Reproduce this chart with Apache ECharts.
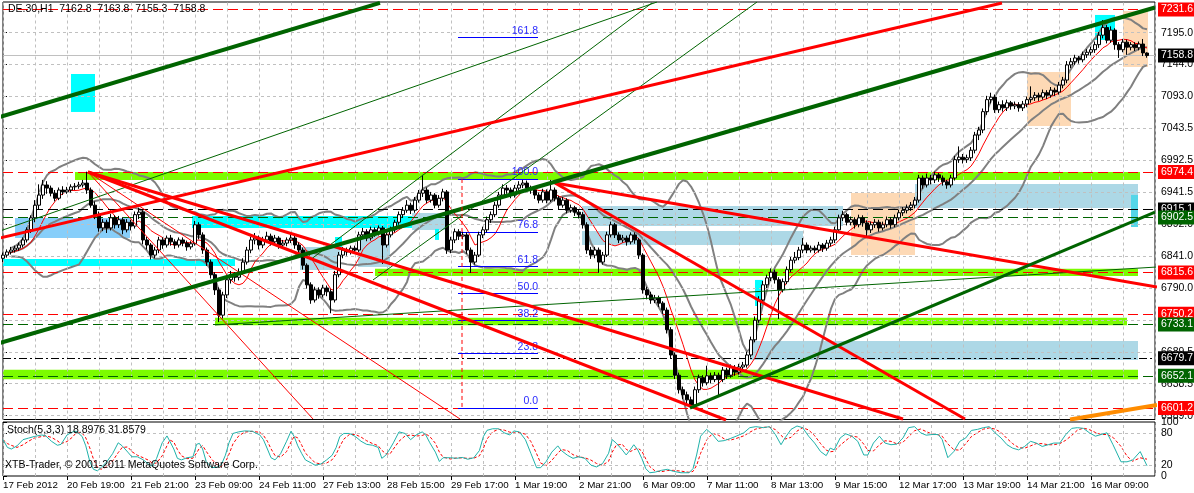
<!DOCTYPE html>
<html><head><meta charset="utf-8">
<script src="https://cdn.jsdelivr.net/npm/echarts@6/dist/echarts.min.js"></script>
<style>html,body{margin:0;padding:0;background:#fff}#c{width:1194px;height:493px}</style>
</head><body><div id="c"></div>
<script>
// ---------- DATA ----------
const timeLabels = ['17 Feb 2012','20 Feb 19:00','21 Feb 21:00','23 Feb 09:00','24 Feb 11:00','27 Feb 13:00','28 Feb 15:00','29 Feb 17:00','1 Mar 19:00','2 Mar 21:00','6 Mar 09:00','7 Mar 11:00','8 Mar 13:00','9 Mar 15:00','12 Mar 17:00','13 Mar 19:00','14 Mar 21:00','16 Mar 09:00'];
const priceTickValues = [6589.0,6639.5,6690.0,6740.5,6791.0,6841.5,6892.0,6942.5,6993.0,7043.5,7094.0,7144.5,7195.0];
const priceTickLabels = ['6589.0','6638.5','6689.5','6738.5','6790.0','6841.0','6892.0','6941.5','6992.5','7043.5','7093.0','7144.0','7195.0'];
const stochTickValues = [0,20,80,100];

// candles: [open, close, low, high]
const candles = [
[6838,6843,6832,6847],[6843,6848,6839,6852],[6848,6851,6844,6856],[6851,6854,6847,6858],[6854,6859,6850,6863],
[6859,6867,6855,6871],[6867,6883,6863,6887],[6883,6902,6878,6906],[6902,6922,6895,6930],[6922,6938,6915,6955],
[6938,6954,6932,6962],[6954,6949,6940,6960],[6949,6941,6936,6953],[6941,6933,6928,6946],[6933,6946,6930,6950],
[6946,6943,6938,6952],[6943,6946,6940,6951],[6946,6951,6942,6955],[6951,6952,6946,6957],[6952,6954,6948,6959],
[6954,6957,6950,6962],[6957,6946,6940,6975],[6946,6922,6918,6950],[6922,6907,6900,6928],[6907,6886,6880,6912],
[6886,6895,6881,6900],[6895,6886,6878,6899],[6886,6902,6882,6908],[6902,6891,6885,6906],[6891,6899,6886,6905],
[6899,6883,6876,6903],[6883,6895,6879,6900],[6895,6889,6882,6899],[6889,6907,6885,6912],[6907,6911,6900,6918],
[6911,6867,6860,6914],[6867,6859,6852,6872],[6859,6843,6836,6862],[6843,6851,6838,6856],[6851,6867,6846,6872],
[6867,6859,6853,6871],[6859,6870,6855,6874],[6870,6864,6858,6875],[6864,6859,6853,6868],[6859,6867,6855,6871],
[6867,6862,6857,6871],[6862,6856,6850,6866],[6856,6861,6852,6865],[6861,6891,6858,6897],[6891,6875,6868,6895],
[6875,6851,6845,6879],[6851,6832,6826,6855],[6832,6812,6806,6836],[6812,6788,6780,6816],[6788,6748,6737,6792],
[6748,6780,6743,6785],[6780,6804,6775,6810],[6804,6812,6798,6818],[6812,6808,6801,6816],[6808,6816,6803,6822],
[6816,6832,6812,6838],[6832,6851,6828,6856],[6851,6867,6846,6872],[6867,6870,6860,6878],[6870,6859,6852,6874],
[6859,6867,6854,6872],[6867,6873,6862,6880],[6873,6864,6858,6877],[6864,6870,6860,6875],[6870,6859,6853,6873],
[6859,6862,6854,6867],[6862,6867,6857,6871],[6867,6870,6862,6876],[6870,6859,6853,6874],[6859,6851,6845,6863],
[6851,6827,6820,6855],[6827,6796,6790,6830],[6796,6772,6766,6800],[6772,6788,6768,6793],[6788,6780,6774,6792],
[6780,6791,6776,6796],[6791,6785,6778,6795],[6785,6772,6751,6789],[6772,6812,6768,6818],[6812,6843,6808,6848],
[6843,6851,6838,6856],[6851,6848,6842,6855],[6848,6854,6844,6858],[6854,6851,6846,6858],[6851,6875,6848,6880],
[6875,6880,6870,6886],[6880,6870,6865,6884],[6870,6883,6866,6888],[6883,6878,6872,6887],[6878,6886,6874,6890],
[6886,6859,6829,6889],[6859,6875,6855,6879],[6875,6883,6871,6888],[6883,6895,6879,6899],[6895,6907,6891,6912],
[6907,6914,6902,6919],[6914,6922,6910,6930],[6922,6914,6908,6926],[6914,6930,6910,6935],[6930,6941,6926,6946],
[6941,6946,6935,6970],[6946,6930,6925,6950],[6930,6938,6926,6943],[6938,6922,6917,6941],[6922,6933,6918,6938],
[6933,6943,6928,6948],[6943,6851,6845,6946],[6851,6867,6846,6872],[6867,6880,6862,6885],[6880,6873,6867,6884],
[6873,6875,6868,6880],[6875,6851,6845,6879],[6851,6832,6815,6855],[6832,6843,6828,6848],[6843,6875,6840,6880],
[6875,6883,6870,6888],[6883,6899,6879,6904],[6899,6907,6894,6912],[6907,6922,6903,6927],[6922,6938,6918,6943],
[6938,6949,6934,6955],[6949,6946,6940,6954],[6946,6938,6933,6950],[6938,6949,6934,6954],[6949,6954,6945,6960],
[6954,6957,6949,6962],[6957,6949,6944,6961],[6949,6946,6940,6953],[6946,6938,6932,6950],[6938,6930,6925,6942],
[6930,6943,6926,6948],[6943,6930,6925,6947],[6930,6946,6927,6962],[6946,6933,6928,6950],[6933,6922,6916,6937],
[6922,6930,6918,6935],[6930,6914,6909,6933],[6914,6918,6910,6923],[6918,6911,6905,6921],[6911,6907,6901,6915],
[6907,6891,6885,6911],[6891,6851,6845,6895],[6851,6843,6837,6856],[6843,6851,6838,6856],[6851,6832,6815,6855],
[6832,6843,6828,6848],[6843,6875,6840,6880],[6875,6891,6871,6896],[6891,6875,6870,6894],[6875,6867,6862,6879],
[6867,6870,6863,6875],[6870,6864,6858,6874],[6864,6875,6860,6879],[6875,6867,6861,6879],[6867,6843,6837,6870],
[6843,6788,6782,6846],[6788,6780,6773,6793],[6780,6772,6766,6785],[6772,6775,6767,6780],[6775,6767,6761,6779],
[6767,6756,6750,6770],[6756,6725,6719,6760],[6725,6685,6679,6729],[6685,6653,6647,6689],[6653,6630,6624,6657],
[6630,6622,6615,6635],[6622,6614,6607,6627],[6614,6606,6601,6619],[6606,6630,6603,6635],[6630,6649,6625,6654],
[6649,6641,6635,6653],[6641,6652,6637,6668],[6652,6646,6640,6657],[6646,6653,6642,6658],[6653,6646,6620,6657],
[6646,6661,6642,6666],[6661,6653,6647,6665],[6653,6665,6649,6670],[6665,6658,6652,6669],[6658,6666,6654,6671],
[6666,6669,6661,6674],[6669,6685,6665,6690],[6685,6709,6681,6714],[6709,6740,6705,6746],[6740,6772,6736,6778],
[6772,6796,6768,6802],[6796,6807,6791,6812],[6807,6816,6802,6822],[6816,6804,6798,6820],[6804,6788,6742,6808],
[6788,6801,6784,6806],[6801,6820,6797,6825],[6820,6835,6816,6840],[6835,6839,6830,6848],[6839,6851,6835,6856],
[6851,6859,6846,6870],[6859,6851,6846,6863],[6851,6854,6847,6858],[6854,6851,6846,6858],[6851,6859,6847,6864],
[6859,6854,6848,6862],[6854,6862,6850,6867],[6862,6867,6857,6872],[6867,6883,6862,6888],[6883,6902,6878,6907],
[6902,6907,6897,6913],[6907,6895,6890,6910],[6895,6899,6890,6904],[6899,6891,6885,6903],[6891,6902,6887,6907],
[6902,6894,6888,6906],[6894,6883,6870,6898],[6883,6891,6878,6896],[6891,6895,6886,6900],[6895,6886,6880,6899],
[6886,6891,6882,6896],[6891,6899,6887,6904],[6899,6891,6885,6903],[6891,6902,6887,6907],[6902,6910,6898,6915],
[6910,6914,6905,6919],[6914,6918,6909,6923],[6918,6922,6913,6927],[6922,6930,6917,6935],[6930,6965,6926,6970],
[6965,6954,6948,6969],[6954,6965,6950,6972],[6965,6962,6955,6970],[6962,6970,6957,6975],[6970,6965,6959,6973],
[6965,6959,6953,6969],[6959,6954,6948,6962],[6954,6965,6950,6970],[6965,6994,6961,7000],[6994,6998,6989,7015],
[6998,6994,6988,7003],[6994,6997,6989,7002],[6997,7009,6992,7014],[7009,7033,7004,7038],[7033,7041,7025,7046],
[7041,7070,7036,7075],[7070,7089,7065,7095],[7089,7093,7083,7100],[7093,7073,7068,7097],[7073,7081,7068,7086],
[7081,7076,7070,7088],[7076,7084,7071,7089],[7084,7079,7073,7087],[7079,7081,7074,7086],[7081,7076,7070,7085],
[7076,7082,7071,7087],[7082,7089,7077,7094],[7089,7092,7084,7110],[7092,7096,7087,7101],[7096,7093,7087,7100],
[7093,7100,7089,7105],[7100,7096,7090,7104],[7096,7104,7092,7109],[7104,7101,7095,7108],[7101,7112,7097,7117],
[7112,7120,7107,7125],[7120,7144,7115,7150],[7144,7149,7139,7155],[7149,7155,7144,7160],[7155,7152,7146,7158],
[7152,7160,7148,7165],[7160,7164,7155,7169],[7164,7168,7159,7173],[7168,7176,7163,7181],[7176,7191,7171,7196],
[7191,7203,7186,7215],[7203,7183,7178,7207],[7183,7199,7179,7205],[7199,7176,7168,7202],[7176,7168,7155,7180],
[7168,7180,7164,7185],[7180,7172,7160,7184],[7172,7176,7167,7180],[7176,7171,7166,7180],[7171,7177,7167,7181],
[7177,7163,7158,7185],[7162.8,7158.8,7155.3,7163.8]
];

// Stochastic %K main line: [bar position, value]
const stochK = [
[0,67.3],[1.1,52.9],[2.1,50],[3.5,55.8],[5,67.3],[6.4,70.2],[7.8,73.1],[9.7,76],[10.7,74.2],[12.1,64.4],[13.6,56.9],[14.5,58.6],[16,76],[17.4,81.7],[18.3,82.9],[19.8,73.1],[20.7,55.8],[21.7,26.9],[22.6,12.5],[23.6,9.6],[24.5,15.4],[26,26.9],[27.4,41.3],[28.8,61.5],[29.8,55.8],[31.2,44.2],[32.2,35.6],[33.6,35.6],[35.1,29.8],[36.5,21.1],[37.4,18.3],[38.4,32.7],[39.8,61.5],[41,74.2],[41.7,64.4],[42.7,50],[43.6,32.7],[44.6,29.8],[46,33.8],[47.5,35.6],[48.4,58.6],[49.1,60.4],[49.9,50],[50.8,26.9],[52.2,15.4],[53.7,16.5],[54.6,21.1],[55.6,38.5],[56.5,61.5],[57.5,78.8],[58.9,81.7],[60.4,83.5],[62.3,82.9],[64.2,76],[65.1,67.3],[66.1,50],[67,33.8],[68,29.8],[69.4,41.3],[70.9,64.4],[72,82.9],[72.8,73.1],[73.7,55.8],[74.7,41.3],[75.6,29.8],[77.1,24],[78,20],[79.5,22.3],[80.9,29.8],[82.3,38.5],[83.3,52.9],[84.2,73.1],[85.2,78.8],[86.6,78.8],[88.1,73.1],[89.5,64.4],[90.9,58.6],[92.4,56.9],[93.8,52.9],[94.7,32.7],[95.7,38.5],[96.7,50],[97.6,61.5],[99,81.7],[100.5,78.8],[101.9,67.3],[103.3,76],[104.8,81.7],[105.7,76],[106.7,61.5],[108.1,44.2],[109.1,26.9],[110,33.8],[111.9,33.8],[113.4,32.7],[114.8,34.4],[116.2,31],[117.7,33.8],[119.1,47.1],[120.1,73.1],[121,84.6],[122.4,87.5],[123.9,87.5],[125.3,80],[126.7,76],[127.7,83.5],[129.1,81.7],[130.6,67.3],[132,41.3],[133.4,15.4],[134.4,15.4],[135.8,26.9],[137.2,44.2],[138.7,55.8],[139.6,47.1],[141.1,38.5],[142.5,32.7],[143.9,35.6],
[145.5,32.6],[147,20],[148.4,16.8],[149.9,23.1],[151.4,42.1],[152.3,67.4],[153.3,61],[154.8,48.4],[155.8,39],[156.8,48.4],[157.7,57.9],[158.7,48.4],[159.7,32.6],[160.7,13.6],[161.7,6],[163.1,7.3],[164.6,10.5],[166.1,12.4],[167.6,8.6],[169.5,6],[171.5,6],[172.5,13.6],[173.4,38.9],[174.4,73.7],[175.9,86.3],[177.4,76.8],[178.8,64.2],[180.3,65.5],[181.8,69.3],[183.3,73.7],[185.2,80],[186.7,89.5],[188.2,91.4],[190.1,89.5],[191.6,91.4],[193.1,76.8],[194.5,57.9],[195.5,70.5],[197,86.3],[198.5,92.6],[199.9,89.5],[201.4,73.7],[202.9,61],[204.4,45.2],[205.8,37.7],[206.8,51.6],[207.8,48.4],[209.3,70.5],[210.7,78.1],[212.2,73.7],[213.7,64.2],[215.2,38.9],[216.2,38.9],[217.6,61],[219.1,73.7],[220.5,61],[222,57.9],[223.5,59.1],[225,70.5],[226.4,89.5],[227.9,91.4],[229.4,80],[230.8,75.6],[232.3,76.8],[233.8,76.8],[234.8,67.4],[236.2,33.9],[237.7,45.2],[239.2,64.2],[240.7,70.5],[242.1,84.4],[243.6,86.3],[245.1,89.5],[246.6,91.4],[248,80],[249.5,70.5],[251,57.9],[252.4,51.6],[253.9,48.4],[255.4,54.7],[256.9,64.2],[258.3,61],[259.8,54.7],[261.3,57.9],[262.7,61],[264.2,61],[265.7,76.8],[267.2,88.2],[268.6,89.5],[270.1,88.2],[271.6,80],[273.1,73.7],[274.5,76.8],[276,80],[277.5,57.9],[279.5,26.3],[281,26.3],[282.4,29.5],[284.3,45.2],[286,18.9]
];

// Horizontal price levels
const levelValues = [7231.6, 7158.8, 6974.4, 6915.1, 6902.5, 6815.6, 6750.2, 6733.1, 6679.7, 6652.1, 6601.2];
const levelKinds  = ['red','cur','red','black','green','red','red','green','dashdot','green','red'];

// Fibonacci
const fibLevels = [0, 23.8, 38.2, 50.0, 61.8, 76.8, 100.0, 161.8];
const fibLow = 6601.3, fibHigh = 6963.5;
const fibFrom = 113.75, fibTo = 133.75, fibVertical = 114.75;

// Rectangles: [fromBar, toBar, priceTop, priceBottom]
const limeZones  = [[18,284.25,6974.5,6962],[93,283.75,6821.5,6810],[53,281,6744,6732],[-1,283.75,6661.5,6646.5]];
const blueZones  = [[144.75,210,6920.7,6889.1],[144.75,200,6881.2,6859.1],[228,283.75,6955.6,6917.6],[186.75,283.75,6707.1,6677],[74.25,84.25,6855.9,6819.5],[88.75,96.75,6873.3,6824.2],[102.25,111,6909.7,6882.8]];
const skyZones   = [[3,31.75,6901.8,6870.1]];
const cyanZones  = [[17,23,7129.6,7069.5],[273,278,7223,7183.4],[47.25,102.25,6904.9,6885.9],[-1,58,6836.9,6825.8],[188,190,6803.7,6762.5],[83,84.75,6871.7,6855.9],[108,109,6884.4,6867]];
const turqZones  = [[282,283.75,6938.2,6887.5]];
const peachZones = [[212,228,6941.3,6843.2],[256,267,7132.8,7047.3],[280,286.25,7229.3,7140.7]];

// Trend lines: [[bar, price], [bar, price]]
const greenThick = [[[-0.75,7061.6],[94.25,7242.0]], [[-0.75,6704.0],[288,7234.8]]];
const greenMid   = [[[171.75,6601.1],[288,6911.2]]];
const greenThin  = [[[-0.75,6881.2],[163.5,7243.5]], [[76.75,6835.3],[162.25,7242]], [[92.5,6803.7],[188.5,7243.5]], [[53,6732.5],[288.5,6824.2]]];
const redThick   = [[[-0.75,6870.1],[249.75,7242]], [[21.25,6974.5],[225,6583.7]], [[138,6957.1],[288.5,6792.6]], [[138,6957.1],[240.5,6583.7]], [[21.25,6974.5],[180.75,6582.1]]];
const redThin    = [[[21.25,6974.5],[77.5,6583.7]], [[21.25,6974.5],[114.25,6583.7]]];
const orangeLine = [[[266.75,6582.9],[288.5,6605.9]]];

// ---------- BUILD ----------
const N_SLOTS = 289;
const P_MIN = 6582.9, P_MAX = 7243.5;
const FONT = '"Liberation Sans", Arial, sans-serif';
const cats = Array.from({length: N_SLOTS}, (_, i) => String(i));
const closes = candles.map(c => c[1]);

function smaAt(i, p) { const s = Math.max(0, i - p + 1); let sum = 0; for (let j = s; j <= i; j++) sum += closes[j]; return sum / (i - s + 1); }
const bbMid = [], bbUp = [], bbLo = [], ma = [];
closes.forEach((c, i) => {
  const s = Math.max(0, i - 19); const n = i - s + 1; const m = smaAt(i, 20);
  let v = 0; for (let j = s; j <= i; j++) v += (closes[j] - m) ** 2;
  const sd = Math.sqrt(v / n);
  bbMid.push(i < 2 ? null : m); bbUp.push(i < 2 ? null : m + 2 * sd); bbLo.push(i < 2 ? null : m - 2 * sd);
  ma.push(i < 1 ? null : smaAt(i, 8));
});
const stochD = stochK.map((p, j) => {
  const a = stochK.slice(Math.max(0, j - 2), j + 1);
  return [p[0], a.reduce((s, q) => s + q[1], 0) / a.length];
});

const gridXs = []; for (let v = 0; v <= 288; v += 8) gridXs.push(v);
const labelXs = []; for (let v = 0; v <= 272; v += 16) labelXs.push(v);

function fmtPrice(v) { const i = priceTickValues.findIndex(t => Math.abs(t - v) < 0.01); return i >= 0 ? priceTickLabels[i] : ''; }

const levelStyle = {
  red:     {line: {color: '#ff0000', type: [10, 5], width: 1}, box: '#ff0000'},
  cur:     {line: {color: '#c0c0c0', type: 'solid', width: 1}, box: '#000000'},
  black:   {line: {color: '#000000', type: [10, 5], width: 1}, box: '#000000'},
  green:   {line: {color: '#006400', type: [10, 5], width: 1}, box: '#006400'},
  dashdot: {line: {color: '#000000', type: [8, 3, 2, 3], width: 1}, box: '#000000'}
};

function zoneItems(list, color) {
  return list.map(z => [{coord: [z[0], z[2]], itemStyle: {color: color}}, {coord: [z[1], z[3]]}]);
}
function segSeries(list, color, width, z, type) {
  return list.map(pts => ({
    type: 'line', xAxisIndex: 1, yAxisIndex: 0, data: pts, symbol: 'none', silent: true, z: z,
    lineStyle: {color: color, width: width, type: type || 'solid'}, animation: false
  }));
}
const dummy = [[-50, 0]];

const series = [];
series.push({
  type: 'line', xAxisIndex: 1, yAxisIndex: 0, data: dummy, symbol: 'none', silent: true, z: 1,
  markLine: {symbol: ['none', 'none'], silent: true, animation: false, label: {show: false},
    lineStyle: {color: '#c0c0c0', type: [3, 3], width: 1},
    data: priceTickValues.map(v => ({yAxis: v})).concat(gridXs.map(v => ({xAxis: v})))}
});
series.push({
  type: 'line', xAxisIndex: 1, yAxisIndex: 0, data: dummy, symbol: 'none', silent: true, z: 2,
  markArea: {silent: true, animation: false,
    data: [].concat(zoneItems(limeZones, '#7cfc00'), zoneItems(blueZones, '#add8e6'), zoneItems(skyZones, '#87cefa'),
      zoneItems(peachZones, '#fdd9b5'), zoneItems(cyanZones, '#00ffff'), zoneItems(turqZones, '#55d6e8'))}
});
series.push({
  type: 'line', xAxisIndex: 1, yAxisIndex: 0, data: dummy, symbol: 'none', silent: true, z: 3,
  markLine: {symbol: ['none', 'none'], silent: true, animation: false,
    data: levelValues.map((v, i) => {
      const st = levelStyle[levelKinds[i]];
      return {yAxis: v, lineStyle: st.line,
        label: {show: true, position: 'end', distance: 3, formatter: v.toFixed(1), color: '#fff',
          backgroundColor: st.box, padding: [2, 3, 1, 3], fontSize: 10.5, fontFamily: FONT}};
    })}
});
[bbUp, bbMid, bbLo].forEach(d => series.push({
  type: 'line', xAxisIndex: 0, yAxisIndex: 0, data: d, symbol: 'none', silent: true, z: 4,
  lineStyle: {color: '#808080', width: 2}, animation: false
}));
series.push({type: 'line', xAxisIndex: 0, yAxisIndex: 0, data: ma, symbol: 'none', silent: true, z: 4,
  lineStyle: {color: '#ff0000', width: 1}, animation: false});
series.push({
  type: 'candlestick', xAxisIndex: 0, yAxisIndex: 0, data: candles, barWidth: 3, z: 5, silent: true,
  itemStyle: {color: '#ffffff', color0: '#000000', borderColor: '#000000', borderColor0: '#000000', borderWidth: 1},
  animation: false
});
series.push(...segSeries(greenThin, '#006400', 1, 6));
series.push(...segSeries(redThin, '#ff0000', 1, 6));
series.push(...segSeries(redThick, '#ff0000', 3, 6));
series.push(...segSeries(greenThick, '#006400', 4, 6));
series.push(...segSeries(greenMid, '#006400', 3, 6));
series.push(...segSeries(orangeLine, '#ff8c00', 4, 6));
series.push(...segSeries([[[fibVertical, fibHigh], [fibVertical, fibLow]]], '#ff0000', 1, 6, [4, 3]));
series.push({
  type: 'line', xAxisIndex: 1, yAxisIndex: 0, data: dummy, symbol: 'none', silent: true, z: 7,
  markLine: {symbol: ['none', 'none'], silent: true, animation: false,
    lineStyle: {color: '#0000ff', type: 'solid', width: 1},
    data: fibLevels.map(l => {
      const p = fibLow + (fibHigh - fibLow) * l / 100;
      return [{coord: [fibFrom, p], label: {show: true, position: 'insideEndTop', distance: [0, 1], formatter: l.toFixed(1),
        color: '#2a2aff', fontSize: 10.5, fontFamily: FONT}}, {coord: [fibTo, p]}];
    })}
});
series.push({
  type: 'line', xAxisIndex: 2, yAxisIndex: 1, data: dummy, symbol: 'none', silent: true, z: 1,
  markLine: {symbol: ['none', 'none'], silent: true, animation: false, label: {show: false},
    lineStyle: {color: '#c0c0c0', type: [3, 3], width: 1},
    data: [{yAxis: 20}, {yAxis: 80}].concat(gridXs.map(v => ({xAxis: v})))}
});
series.push({type: 'line', xAxisIndex: 2, yAxisIndex: 1, data: stochD, symbol: 'none', silent: true, z: 4,
  lineStyle: {color: '#ff0000', width: 1, type: [3, 2]}, animation: false});
series.push({type: 'line', xAxisIndex: 2, yAxisIndex: 1, data: stochK, symbol: 'none', silent: true, z: 5,
  lineStyle: {color: '#20b2aa', width: 1}, animation: false});

const option = {
  animation: false,
  backgroundColor: '#ffffff',
  grid: [
    {left: 3, right: 39, top: 2, bottom: 73.5, show: true, borderColor: '#000', borderWidth: 1, backgroundColor: 'transparent', outerBoundsMode: 'none', containLabel: false},
    {left: 3, right: 39, top: 422, bottom: 17, show: true, borderColor: '#000', borderWidth: 1, backgroundColor: 'transparent', outerBoundsMode: 'none', containLabel: false}
  ],
  xAxis: [
    {type: 'category', gridIndex: 0, data: cats, boundaryGap: false, show: false},
    {type: 'value', gridIndex: 0, min: 0, max: 288, show: false},
    {type: 'value', gridIndex: 1, min: 0, max: 288, position: 'bottom',
      axisLine: {show: false}, splitLine: {show: false},
      axisTick: {show: true, customValues: labelXs, length: 4, lineStyle: {color: '#000'}},
      axisLabel: {show: true, customValues: labelXs, align: 'left', margin: 4, color: '#000', fontSize: 9.8, fontFamily: FONT,
        formatter: v => { const k = Math.round(v / 16); return (Math.abs(v - k * 16) < 0.01 && timeLabels[k]) ? timeLabels[k] : ''; }}}
  ],
  yAxis: [
    {type: 'value', gridIndex: 0, min: P_MIN, max: P_MAX, position: 'right',
      axisLine: {show: false}, splitLine: {show: false},
      axisTick: {show: true, customValues: priceTickValues, length: 4, lineStyle: {color: '#000'}},
      axisLabel: {show: true, customValues: priceTickValues, formatter: fmtPrice, color: '#000', fontSize: 10.5, fontFamily: FONT, margin: 6}},
    {type: 'value', gridIndex: 1, min: 0, max: 100, position: 'right',
      axisLine: {show: false}, splitLine: {show: false},
      axisTick: {show: true, customValues: stochTickValues, length: 4, lineStyle: {color: '#000'}},
      axisLabel: {show: true, customValues: stochTickValues, color: '#000', fontSize: 10.5, fontFamily: FONT, margin: 6,
        formatter: v => String(Math.round(v))}}
  ],
  graphic: [
    {type: 'text', left: 8, top: 4, z: 100, silent: true, style: {text: 'DE.30,H1  7162.8  7163.8  7155.3  7158.8', fill: '#000', font: '10.5px ' + FONT}},
    {type: 'text', left: 7, top: 425, z: 100, silent: true, style: {text: 'Stoch(5,3,3) 18.8976 31.8579', fill: '#000', font: '10.5px ' + FONT}},
    {type: 'text', left: 5, top: 460, z: 100, silent: true, style: {text: 'XTB-Trader, \u00a9 2001-2011 MetaQuotes Software Corp.', fill: '#000', font: '10.5px ' + FONT}}
  ],
  series: series
};
const chart = echarts.init(document.getElementById('c'), null, {renderer: 'canvas'});
chart.setOption(option);
</script>
</body></html>
